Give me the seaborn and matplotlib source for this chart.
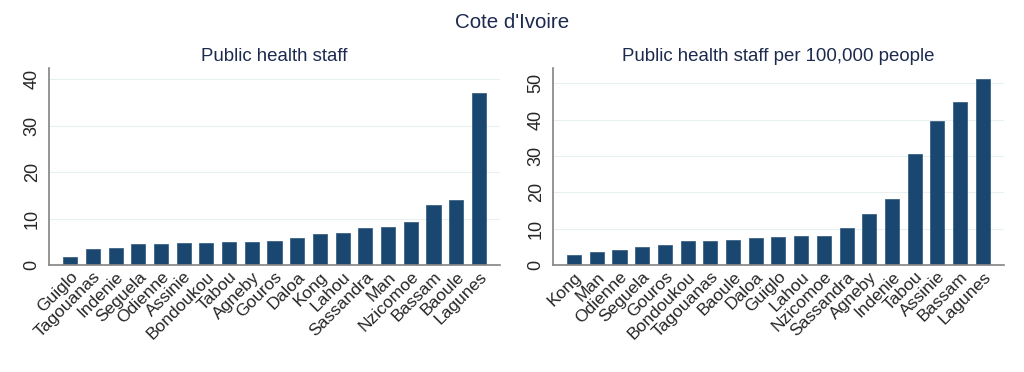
import numpy as np
import pandas as pd
import matplotlib
matplotlib.use('Agg')
import matplotlib.pyplot as plt
import seaborn as sns

sns.set_theme(style="white")
plt.rcParams['font.family'] = ['Liberation Sans', 'DejaVu Sans']

# Left panel: public health staff
staff_regions = ['Guiglo', 'Tagouanas', 'Indenie', 'Seguela', 'Odienne', 'Assinie',
                 'Bondoukou', 'Tabou', 'Agneby', 'Gouros', 'Daloa', 'Kong', 'Lahou',
                 'Sassandra', 'Man', 'Nzicomoe', 'Bassam', 'Baoule', 'Lagunes']
staff_values = [1.65, 3.5, 3.7, 4.45, 4.6, 4.8, 4.8, 5.0, 5.0, 5.15, 5.8, 6.75, 6.8,
                7.95, 8.1, 9.35, 12.9, 13.9, 37.0]

# Right panel: staff per 100,000 people
per_cap_regions = ['Kong', 'Man', 'Odienne', 'Seguela', 'Gouros', 'Bondoukou',
                   'Tagouanas', 'Baoule', 'Daloa', 'Guiglo', 'Lahou', 'Nzicomoe',
                   'Sassandra', 'Agneby', 'Indenie', 'Tabou', 'Assinie', 'Bassam', 'Lagunes']
per_cap_values = [2.65, 3.5, 4.2, 4.95, 5.5, 6.5, 6.7, 6.9, 7.4, 7.6, 7.95, 8.0,
                  10.1, 14.0, 18.2, 30.6, 39.5, 44.8, 51.1]

staff_ticks = [0, 10, 20, 30, 40]
per_cap_ticks = [0, 10, 20, 30, 40, 50]

bar_color = '#1a476f'
title_color = '#1c2a4e'

fig = plt.figure(figsize=(10.24, 3.72), dpi=100)
ax1 = fig.add_axes([0.0479, 0.2876, 0.4404, 0.5296])
ax2 = fig.add_axes([0.540, 0.2876, 0.4404, 0.5296])

panels = [
    (ax1, staff_regions, staff_values, staff_ticks, 42.4, 'Public health staff'),
    (ax2, per_cap_regions, per_cap_values, per_cap_ticks, 54.2,
     'Public health staff per 100,000 people'),
]

for ax, regions, values, ticks, ytop, title in panels:
    df = pd.DataFrame({'region': regions, 'value': values})
    sns.barplot(data=df, x='region', y='value', color=bar_color, width=0.62,
                saturation=1, edgecolor='#3d6385', linewidth=0.6, ax=ax)
    ax.set_xlim(-0.93, len(regions) - 1 + 0.93)
    ax.set_ylim(0, ytop)
    ax.set_yticks(ticks)
    ax.set_yticklabels([str(t) for t in ticks], rotation=90, va='center',
                       fontsize=13)
    ax.set_xticks(range(len(regions)))
    ax.set_xticklabels(regions, rotation=45, ha='right', rotation_mode='anchor',
                       fontsize=12.5)
    ax.set_xlabel('')
    ax.set_ylabel('')
    ax.grid(axis='y', color='#e8f0f0', linewidth=0.8)
    ax.set_axisbelow(True)
    for side in ['top', 'right']:
        ax.spines[side].set_visible(False)
    ax.spines['left'].set_color('#888888')
    ax.spines['bottom'].set_color('#888888')
    ax.tick_params(axis='y', length=4, width=0.8, color='#888888', pad=2)
    ax.tick_params(axis='x', length=0, pad=3)
    ax.set_title(title, fontsize=13.4, color=title_color, pad=5)

fig.suptitle("Cote d'Ivoire", fontsize=14.8, color=title_color, y=0.965)

fig.savefig('out.png', dpi=100)
